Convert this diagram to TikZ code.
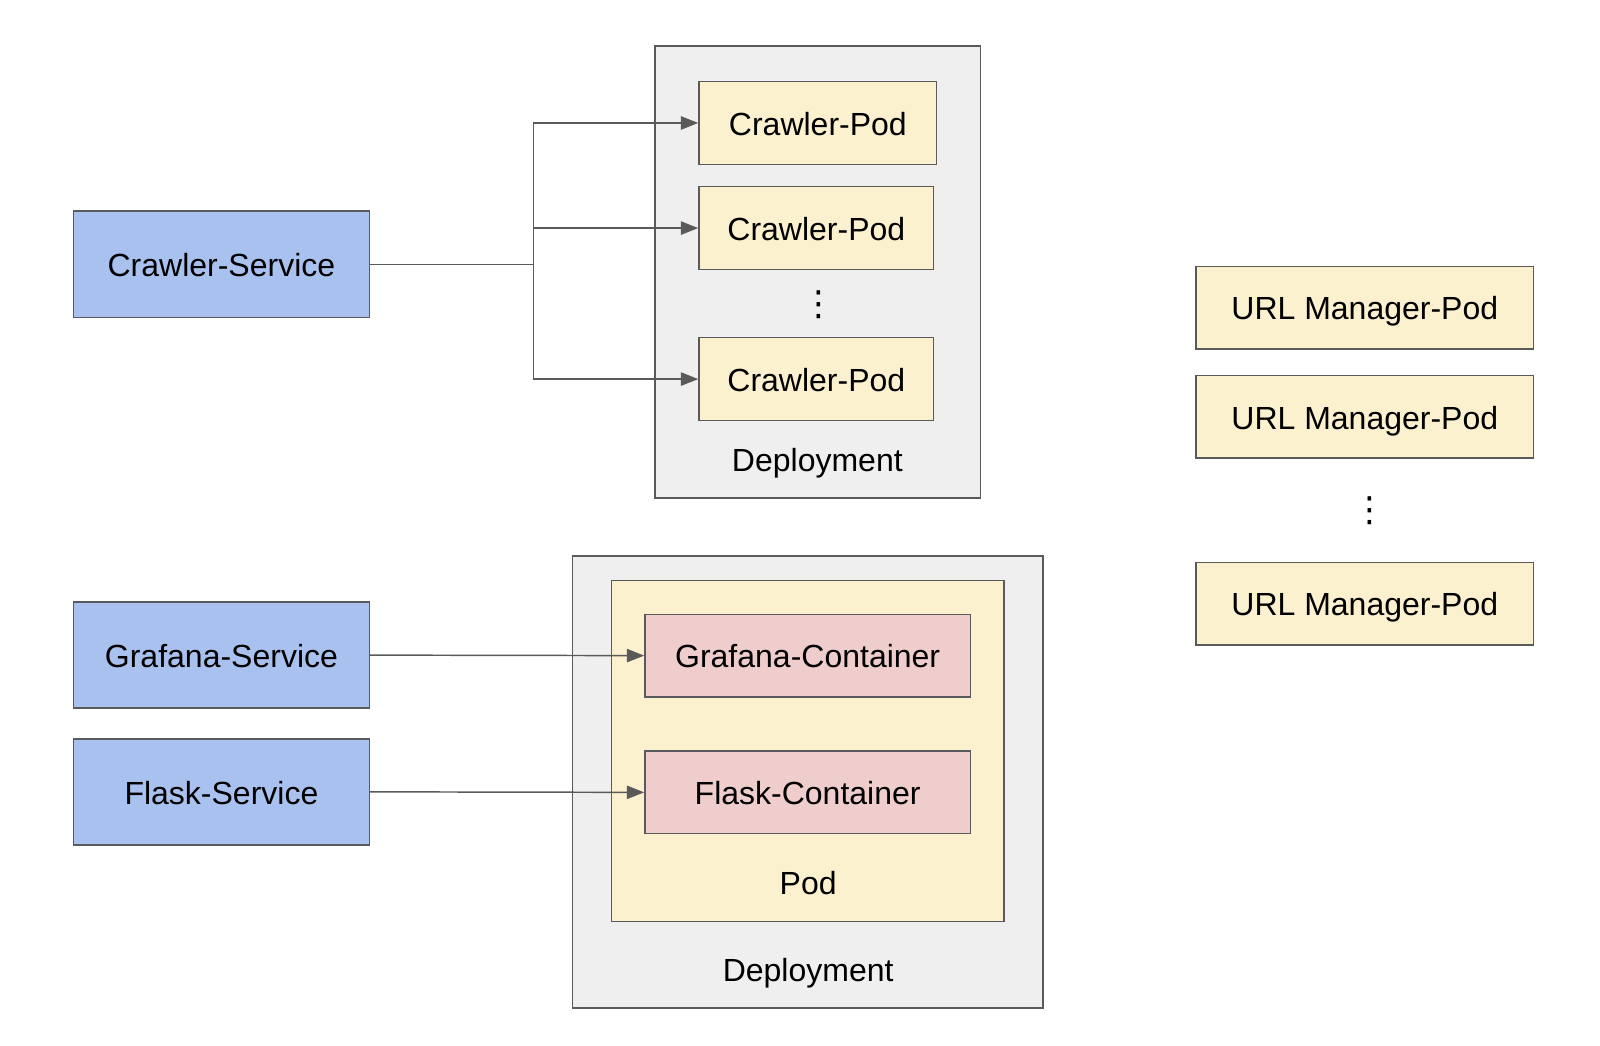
\documentclass[tikz,border=0pt]{standalone}
\usepackage{fontspec}
\setmainfont{Liberation Sans}
\newfontfamily\dejavu{DejaVu Sans}
\usetikzlibrary{arrows.meta}
\newdimen\ux \ux=0.7653pt
\definecolor{svcblue}{HTML}{A9C1EF}
\definecolor{podyellow}{HTML}{FCF1CF}
\definecolor{ctrpink}{HTML}{EFCDCD}
\definecolor{depgray}{HTML}{EFEFEF}
\definecolor{edgegray}{HTML}{5A5A5A}
\tikzset{
  box/.style={draw=edgegray, line width=1.1pt, inner sep=0pt, text height=22pt, text depth=3.6pt, font=\fontsize{24}{28}\selectfont},
  svc/.style={box, fill=svcblue, minimum width=290\ux, minimum height=104\ux},
  pod/.style={box, fill=podyellow, minimum height=81\ux},
  ctr/.style={box, fill=ctrpink, minimum width=319\ux, minimum height=81\ux},
  dep/.style={box, fill=depgray},
  lbl/.style={font=\fontsize{24}{28}\selectfont, inner sep=0pt, anchor=base},
  vdot/.style={font=\dejavu\fontsize{26}{28}\selectfont, inner sep=0pt},
  arr/.style={draw=edgegray, line width=1.1pt, -{Triangle[length=13pt,width=10pt]}},
  ln/.style={draw=edgegray, line width=1.1pt},
}
\begin{document}
\begin{tikzpicture}[x=\ux, y=-\ux]
\path[use as bounding box, fill=white] (0,0) rectangle (1568,1025);
% services
\node[svc] (cs) at (217,259) {Crawler-Service};
\node[svc] (gs) at (217,642) {Grafana-Service};
\node[svc] (fs) at (217,776) {Flask-Service};
% deployment 1
\node[dep, minimum width=319\ux, minimum height=443\ux] (dep1) at (801.5,266.5) {};
\node[pod, minimum width=233\ux] (cp1) at (801.5,120.5) {Crawler-Pod};
\node[pod, minimum width=230\ux] (cp2) at (800,223.5) {Crawler-Pod};
\node[vdot] (cdots) at (802.5,298.5) {⋮};
\node[pod, minimum width=230\ux] (cp3) at (800,371.5) {Crawler-Pod};
\node[lbl] (dep1l) at (801,462) {Deployment};
% deployment 2
\node[dep, minimum width=461\ux, minimum height=443\ux] (dep2) at (791.5,766.5) {};
\node[box, fill=podyellow, minimum width=385\ux, minimum height=334\ux] (podb) at (791.5,736) {};
\node[ctr] (gc) at (791.5,642.5) {Grafana-Container};
\node[ctr] (fc) at (791.5,776.5) {Flask-Container};
\node[lbl] (podl) at (792,877) {Pod};
\node[lbl] (dep2l) at (792,962) {Deployment};
% URL manager pods
\node[pod, minimum width=331\ux] (u1) at (1337.5,301.5) {URL Manager-Pod};
\node[pod, minimum width=331\ux] (u2) at (1337.5,408.5) {URL Manager-Pod};
\node[vdot] (udots) at (1342.5,500.5) {⋮};
\node[pod, minimum width=331\ux] (u3) at (1337.5,591.5) {URL Manager-Pod};
% connectors
\coordinate (br) at (523,259);
\draw[ln] (cs.east) -- (br);
\draw[arr] (br) |- (cp1.west);
\draw[arr] (br) |- (cp2.west);
\draw[arr] (br) |- (cp3.west);
\draw[arr] (gs.east) -- (gc.west);
\draw[arr] (fs.east) -- (fc.west);
\end{tikzpicture}
\end{document}
